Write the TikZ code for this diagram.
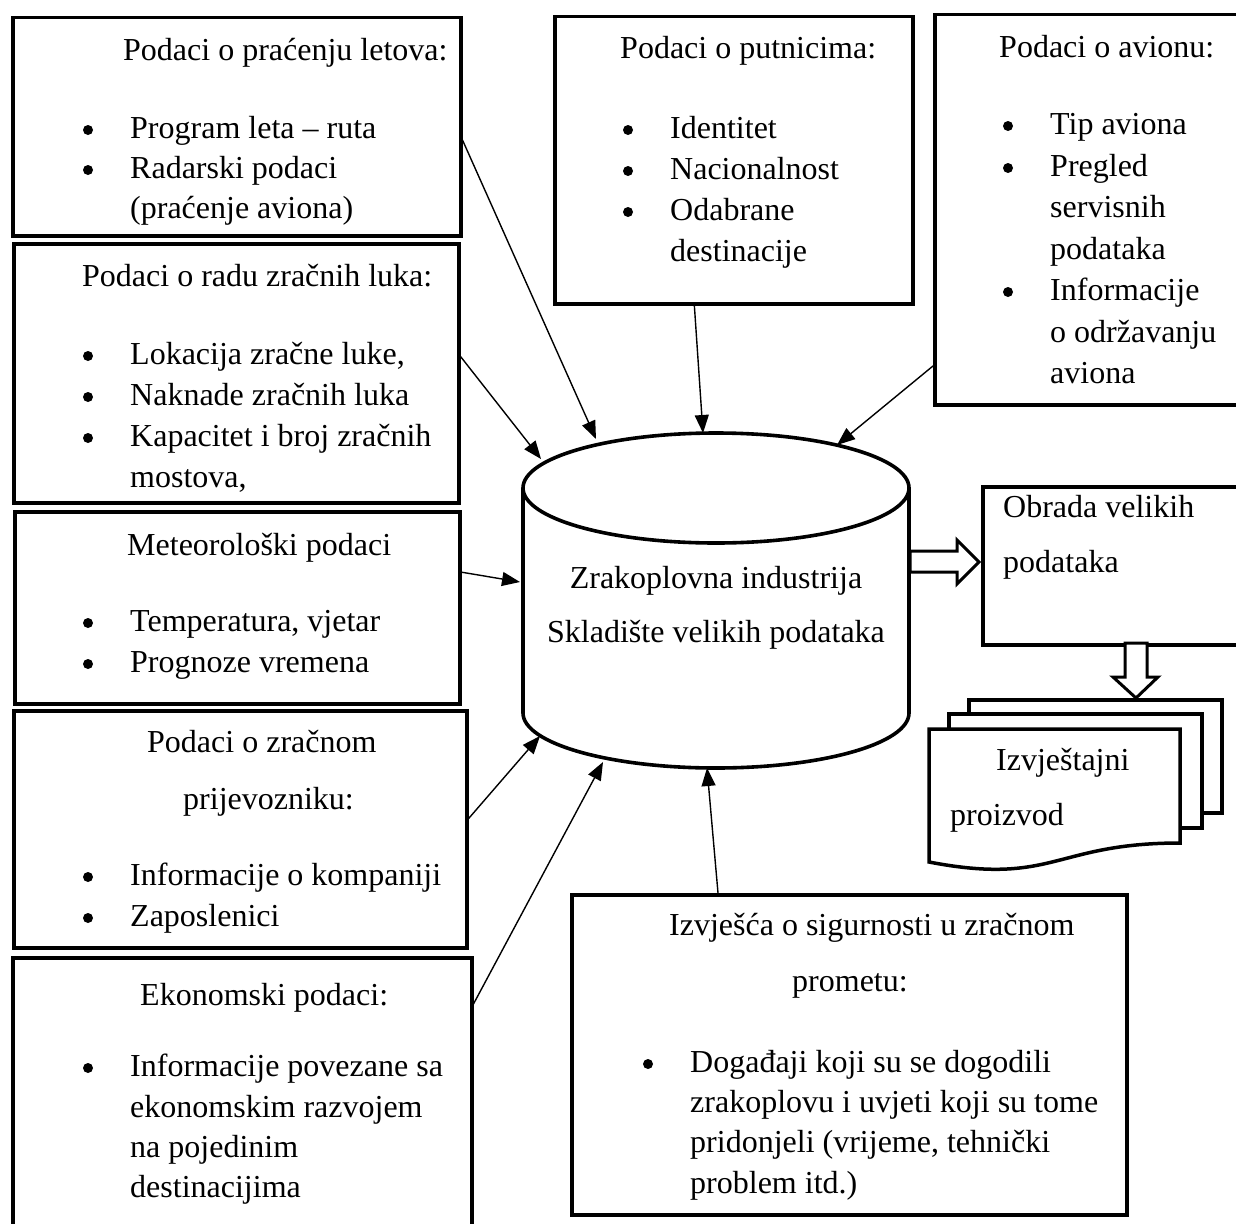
\documentclass[tikz,border=0pt]{standalone}
\usepackage{fontspec}
\setmainfont{Liberation Serif}
\usetikzlibrary{arrows.meta,calc}
\newcommand\fs{\fontsize{32}{38}\selectfont}
\tikzset{
 box/.style={draw, line width=3.5pt, inner sep=0pt, anchor=north west, fill=white},
 txt/.style={inner sep=0pt, anchor=base west, font=\fs},
 ctxt/.style={inner sep=0pt, anchor=base, font=\fs},
 dot/.style={circle, fill=black, inner sep=0pt, minimum size=10pt},
 arr/.style={line width=1.4pt, -{Triangle[length=18pt,width=14pt]}},
 cyl/.style={line width=3.6pt},
 blk/.style={draw, line width=3pt, fill=white, line join=miter},
 pg/.style={line width=3.5pt, line join=miter, fill=white},
}
\newcommand\mkbox[5]{\node[box, minimum width={(#4-#2)*1pt}, minimum height={(#5-#3)*1pt}] (#1) at (#2,#3) {};}
\newcommand\tline[4]{\node[txt] (#1) at (#2,#3) {#4};}
\newcommand\bitem[4]{\node[dot] (#1d) at (#2-42,#3-8) {}; \node[txt] (#1) at (#2,#3) {#4};}
\begin{document}
\begin{tikzpicture}[x=1pt,y=-1pt]
\useasboundingbox (0,0) rectangle (1236,1223);
\clip (0,0) rectangle (1236,1223);
\fill[white] (0,0) rectangle (1236,1223);

% box 1
\mkbox{b1}{11}{16}{459}{234}
\tline{b1t}{123}{60}{Podaci o praćenju letova:}
\bitem{b1a}{130}{138}{Program leta – ruta}
\bitem{b1b}{130}{178}{Radarski podaci}
\tline{b1c}{130}{218}{(praćenje aviona)}

% box 2
\mkbox{b2}{12}{242}{457}{501}
\tline{b2t}{82}{286}{Podaci o radu zračnih luka:}
\bitem{b2a}{130}{364}{Lokacija zračne luke,}
\bitem{b2b}{130}{405}{Naknade zračnih luka}
\bitem{b2c}{130}{446}{Kapacitet i broj zračnih}
\tline{b2d}{130}{487}{mostova,}

% box 3
\mkbox{b3}{13}{510}{458}{702}
\tline{b3t}{127}{555}{Meteorološki podaci}
\bitem{b3a}{130}{631}{Temperatura, vjetar}
\bitem{b3b}{130}{672}{Prognoze vremena}

% box 4
\mkbox{b4}{12}{709}{465}{946}
\tline{b4t}{147}{752}{Podaci o zračnom}
\tline{b4u}{183}{809}{prijevozniku:}
\bitem{b4a}{130}{885}{Informacije o kompaniji}
\bitem{b4b}{130}{926}{Zaposlenici}

% box 5
\mkbox{b5}{11}{956}{470}{1232}
\tline{b5t}{140}{1005}{Ekonomski podaci:}
\bitem{b5a}{130}{1076}{Informacije povezane sa}
\tline{b5b}{130}{1117}{ekonomskim razvojem}
\tline{b5c}{130}{1157}{na pojedinim}
\tline{b5d}{130}{1197}{destinacijima}

% box 6 putnici
\mkbox{b6}{553}{15}{911}{302}
\tline{b6t}{620}{59}{Podaci o putnicima:}
\bitem{b6a}{670}{138}{Identitet}
\bitem{b6b}{670}{179}{Nacionalnost}
\bitem{b6c}{670}{220}{Odabrane}
\tline{b6d}{670}{261}{destinacije}

% box 7 avion
\mkbox{b7}{933}{13}{1250}{403}
\tline{b7t}{999}{58}{Podaci o avionu:}
\bitem{b7a}{1050}{134}{Tip aviona}
\bitem{b7b}{1050}{176}{Pregled}
\tline{b7c}{1050}{217}{servisnih}
\tline{b7d}{1050}{259}{podataka}
\bitem{b7e}{1050}{300}{Informacije}
\tline{b7f}{1050}{342}{o održavanju}
\tline{b7g}{1050}{383}{aviona}

% obrada
\mkbox{ob}{981}{485}{1250}{643}
\tline{obt}{1003}{517}{Obrada velikih}
\tline{obu}{1003}{572}{podataka}

% box 8 izvjesca
\mkbox{b8}{570}{893}{1125}{1213}
\tline{b8t}{669}{935}{Izvješća o sigurnosti u zračnom}
\tline{b8u}{792}{991}{prometu:}
\bitem{b8a}{690}{1072}{Događaji koji su se dogodili}
\tline{b8b}{690}{1112}{zrakoplovu i uvjeti koji su tome}
\tline{b8c}{690}{1152}{pridonjeli (vrijeme, tehnički}
\tline{b8d}{690}{1193}{problem itd.)}

% cylinder
\draw[cyl] (523,488) -- (523,713) .. controls (523,743.4) and (609.4,768) .. (716,768) .. controls (822.6,768) and (909,743.4) .. (909,713) -- (909,488);
\draw[cyl] (716,488) ellipse [x radius=193, y radius=55];
\node[ctxt] (db1) at (716,588) {Zrakoplovna industrija};
\node[ctxt] (db2) at (716,642) {Skladište velikih podataka};

% arrow tips on cylinder
\coordinate (t1) at (596,439);
\coordinate (t2) at (541,459);
\coordinate (t3) at (703,433);
\coordinate (t4) at (520,582);
\coordinate (t5) at (837,445);
\coordinate (t6) at (540,736);
\coordinate (t7) at (603,762);
\coordinate (t8) at (707,768);

\draw[arr] ($(b1.north east)!0.56!(b1.south east)$) -- (t1);
\draw[arr] ($(b2.north east)!0.436!(b2.south east)$) -- (t2);
\draw[arr] ($(b6.south west)!0.391!(b6.south east)$) -- (t3);
\draw[arr] ($(b3.north east)!0.318!(b3.south east)$) -- (t4);
\draw[arr] ($(b7.north west)!0.897!(b7.south west)$) -- (t5);
\draw[arr] ($(b4.north east)!0.456!(b4.south east)$) -- (t6);
\draw[arr] ($(b5.north east)!0.1715!(b5.south east)$) -- (t7);
\draw[arr] ($(b8.north west)!0.265!(b8.north east)$) -- (t8);

% block arrows
\draw[blk] (910,551) -- (957,551) -- (957,540) -- (979,562) -- (957,584) -- (957,572) -- (910,572) -- cycle;
\draw[blk] (1125,643) -- (1147,643) -- (1147,677) -- (1158,677) -- (1136,698) -- (1113,677) -- (1125,677) -- cycle;

% document stack
\draw[pg] (969,714) -- (969,700) -- (1222,700) -- (1222,813) -- (1202,813);
\draw[pg] (949,729) -- (949,714) -- (1202,714) -- (1202,828) -- (1180,828);
\draw[pg] (929,729) -- (1180,729) -- (1180,843) .. controls (1054,843) and (1054,886) .. (929,862) -- cycle;
\tline{rp1}{996}{770}{Izvještajni}
\tline{rp2}{950}{825}{proizvod}
\end{tikzpicture}
\end{document}
